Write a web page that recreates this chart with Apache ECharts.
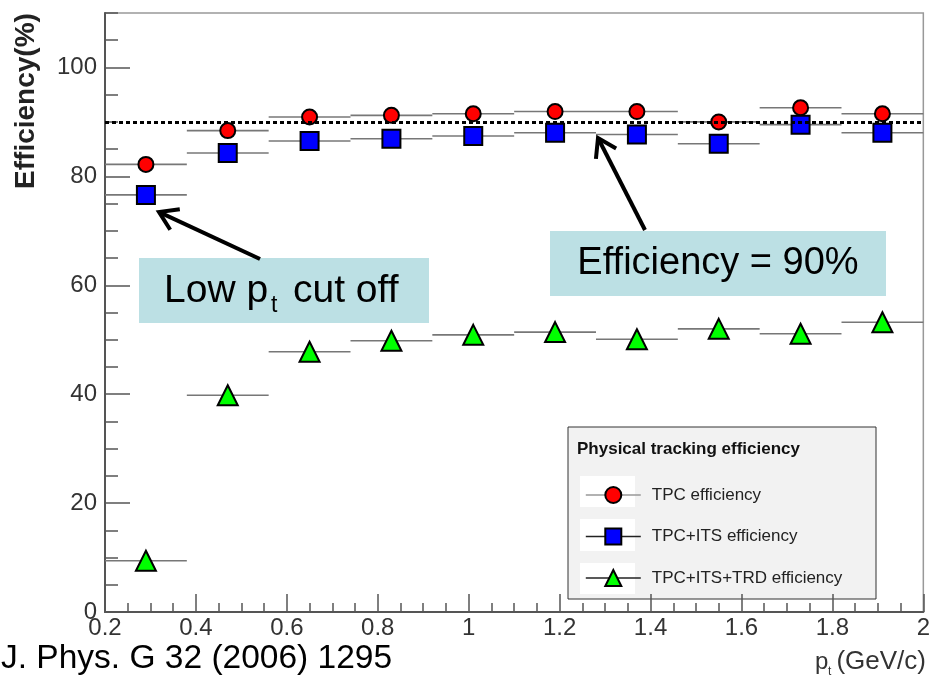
<!DOCTYPE html>
<html><head><meta charset="utf-8">
<script src="https://cdn.jsdelivr.net/npm/echarts@6/dist/echarts.min.js"></script>
<style>html,body{margin:0;padding:0;background:#fff}#chart{width:933px;height:681px}</style>
</head><body><div id="chart"></div>
<script>
// ---- data ----
const binEdges = [0.2, 0.38, 0.56, 0.74, 0.92, 1.10, 1.28, 1.46, 1.64, 1.82, 2.0];
const ptCenters = [0.29, 0.47, 0.65, 0.83, 1.01, 1.19, 1.37, 1.55, 1.73, 1.91];
const tpcEff = [82.2, 88.4, 90.9, 91.2, 91.5, 91.9, 91.9, 90.0, 92.6, 91.5];
const tpcItsEff = [76.6, 84.3, 86.5, 86.9, 87.4, 88.0, 87.7, 86.0, 89.5, 88.0];
const tpcItsTrdEff = [9.4, 39.8, 47.8, 49.8, 50.9, 51.4, 50.1, 52.0, 51.1, 53.2];
const seriesNames = ['TPC efficiency', 'TPC+ITS efficiency', 'TPC+ITS+TRD efficiency'];
const yMajorTicks = [0, 20, 40, 60, 80, 100];
const refLevel = 90;
const legendTitle = 'Physical tracking efficiency';
const yTitle = 'Efficiency(%)';
const citation = 'J. Phys. G 32 (2006) 1295';

const FONT = '"Liberation Sans", Arial, Helvetica, sans-serif';
const chart = echarts.init(document.getElementById('chart'), null, {renderer: 'canvas'});

function pts(vals) { return ptCenters.map((c, i) => [c, vals[i]]); }
function bars(vals) { return ptCenters.map((c, i) => [binEdges[i], binEdges[i + 1], vals[i]]); }
function errBarRender(params, api) {
  const a = api.coord([api.value(0), api.value(2)]);
  const b = api.coord([api.value(1), api.value(2)]);
  return {type: 'line', shape: {x1: a[0], y1: a[1], x2: b[0], y2: b[1]},
          style: {stroke: '#777', lineWidth: 1.6}};
}
function errSeries(vals) {
  return {type: 'custom', renderItem: errBarRender, data: bars(vals), encode: {x: [0, 1], y: 2},
          z: 1, silent: true, clip: true};
}
function markerSeries(name, vals, symbol, size, color) {
  return {type: 'line', name: name, data: pts(vals), symbol: symbol, symbolSize: size, showSymbol: true,
          lineStyle: {opacity: 0}, itemStyle: {color: color, borderColor: '#000', borderWidth: 2, opacity: 1},
          z: 3, silent: true, animation: false};
}
function arrow(tail, tip) {
  const ang = Math.atan2(tip[1] - tail[1], tip[0] - tail[0]);
  const L = 21, a = Math.PI / 5.5;
  const p1 = [tip[0] - L * Math.cos(ang - a), tip[1] - L * Math.sin(ang - a)];
  const p2 = [tip[0] - L * Math.cos(ang + a), tip[1] - L * Math.sin(ang + a)];
  const st = {stroke: '#000', lineWidth: 4, fill: null};
  return [
    {type: 'line', z: 20, shape: {x1: tail[0], y1: tail[1], x2: tip[0] - 2 * Math.cos(ang), y2: tip[1] - 2 * Math.sin(ang)}, style: st},
    {type: 'polyline', z: 20, shape: {points: [p1, tip, p2]}, style: st}
  ];
}
const axisCol = '#555';
const option = {
  animation: false,
  backgroundColor: '#fff',
  textStyle: {fontFamily: FONT},
  grid: {left: 105, right: 8, top: 13, bottom: 69, show: true, borderColor: '#999', borderWidth: 1.5, containLabel: false},
  xAxis: {
    type: 'value', min: 0.2, max: 2, interval: 0.2,
    splitLine: {show: false},
    axisLine: {onZero: false, lineStyle: {color: axisCol, width: 2}},
    axisTick: {inside: true, length: 18, lineStyle: {color: axisCol, width: 1.5}},
    minorTick: {show: true, splitNumber: 4, length: 9, lineStyle: {color: axisCol, width: 1.5}},
    axisLabel: {fontSize: 24, color: '#333', margin: 4, fontFamily: FONT}
  },
  yAxis: [{
    type: 'value', min: 0, max: 110, interval: 20, position: 'left',
    splitLine: {show: false},
    axisLine: {show: true, onZero: false, lineStyle: {color: axisCol, width: 2}},
    axisTick: {inside: true, length: 25, customValues: yMajorTicks, lineStyle: {color: axisCol, width: 1.5}},
    axisLabel: {fontSize: 24, color: '#333', margin: 8, fontFamily: FONT, customValues: yMajorTicks,
                formatter: v => (v > 100 ? '' : String(v))}
  }, {
    type: 'value', min: 0, max: 110, interval: 5, position: 'left', offset: 0,
    splitLine: {show: false},
    axisLine: {show: false},
    axisTick: {inside: true, length: 13, lineStyle: {color: axisCol, width: 1.5}},
    axisLabel: {show: false}
  }],
  legend: {
    orient: 'vertical', left: 580, top: 481, itemWidth: 55, itemHeight: 20, itemGap: 23.5,
    selectedMode: false,
    textStyle: {fontSize: 17, color: '#222', fontFamily: FONT, padding: [0, 0, 0, 6]},
    data: [
      {name: seriesNames[0], lineStyle: {color: '#999', width: 1.6, opacity: 1}},
      {name: seriesNames[1], lineStyle: {color: '#222', width: 1.6, opacity: 1}},
      {name: seriesNames[2], lineStyle: {color: '#222', width: 1.6, opacity: 1}}
    ]
  },
  series: [
    errSeries(tpcEff), errSeries(tpcItsEff), errSeries(tpcItsTrdEff),
    markerSeries(seriesNames[0], tpcEff, 'circle', 15, '#ff0000'),
    markerSeries(seriesNames[1], tpcItsEff, 'rect', 18, '#0000ff'),
    markerSeries(seriesNames[2], tpcItsTrdEff, 'triangle', [20, 20], '#00ff00'),
    {type: 'line', name: 'ref', data: [], z: 10, silent: true,
     markLine: {silent: true, symbol: ['none', 'none'], label: {show: false},
                lineStyle: {type: [4, 3], width: 3.2, color: '#000'},
                data: [{yAxis: refLevel}]}}
  ],
  graphic: [
    // legend frame
    {type: 'rect', z: 0, shape: {x: 568, y: 427, width: 308, height: 172}, style: {fill: '#f2f2f2', stroke: '#333', lineWidth: 1}},
    {type: 'rect', z: 0, shape: {x: 580, y: 476, width: 55, height: 31}, style: {fill: '#fff'}},
    {type: 'rect', z: 0, shape: {x: 580, y: 519, width: 55, height: 32}, style: {fill: '#fff'}},
    {type: 'rect', z: 0, shape: {x: 580, y: 563, width: 55, height: 31}, style: {fill: '#fff'}},
    {type: 'text', z: 5, x: 577, y: 449, style: {text: legendTitle, font: 'bold 17px ' + FONT, fill: '#111', verticalAlign: 'middle'}},
    // annotation boxes
    {type: 'rect', z: 15, shape: {x: 139, y: 258, width: 290, height: 65}, style: {fill: '#bce0e4'}},
    {type: 'text', z: 16, x: 164, y: 291, style: {text: 'Low p', font: '39px ' + FONT, fill: '#000', verticalAlign: 'middle'}},
    {type: 'text', z: 16, x: 271, y: 306, style: {text: 't', font: '23px ' + FONT, fill: '#000', verticalAlign: 'middle'}},
    {type: 'text', z: 16, x: 293, y: 291, style: {text: 'cut off', font: '39px ' + FONT, fill: '#000', verticalAlign: 'middle'}},
    {type: 'rect', z: 15, shape: {x: 550, y: 231, width: 336, height: 65}, style: {fill: '#bce0e4'}},
    {type: 'text', z: 16, x: 718, y: 264, style: {text: 'Efficiency = 90%', font: '38px ' + FONT, fill: '#000', align: 'center', verticalAlign: 'middle'}},
    ...arrow([260, 259], [159, 212]),
    ...arrow([645, 230], [598, 138]),
    // axis titles
    {type: 'text', z: 5, x: 26, y: 101, rotation: Math.PI / 2,
     style: {text: yTitle, font: 'bold 28px ' + FONT, fill: '#222', align: 'center', verticalAlign: 'middle'}},
    {type: 'text', z: 5, x: 815, y: 662, style: {text: 'p', font: '24px ' + FONT, fill: '#333', verticalAlign: 'middle'}},
    {type: 'text', z: 5, x: 828, y: 672, style: {text: 't', font: '12px ' + FONT, fill: '#333', verticalAlign: 'middle'}},
    {type: 'text', z: 5, x: 926, y: 662, style: {text: '(GeV/c)', font: '26px ' + FONT, fill: '#333', align: 'right', verticalAlign: 'middle'}},
    {type: 'text', z: 5, x: 1, y: 659, style: {text: citation, font: '33.5px ' + FONT, fill: '#000', verticalAlign: 'middle'}}
  ]
};
chart.setOption(option);
</script></body></html>
